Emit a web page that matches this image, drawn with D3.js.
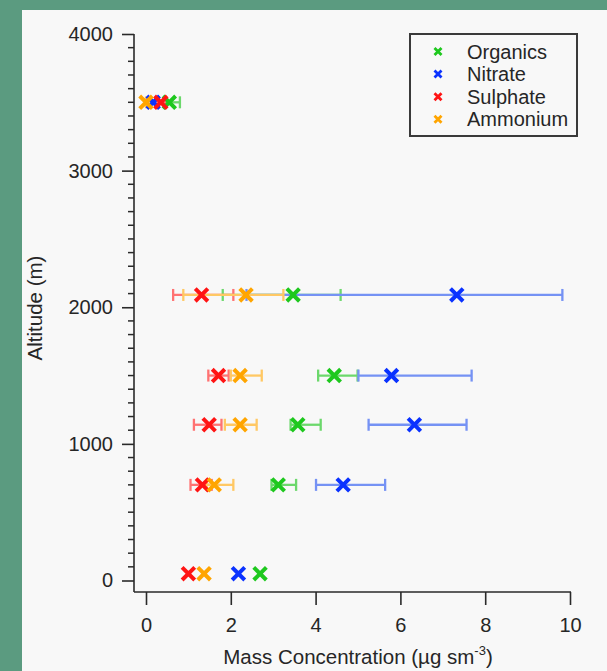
<!DOCTYPE html>
<html>
<head>
<meta charset="utf-8">
<script src="https://cdn.jsdelivr.net/npm/d3@7"></script>
<style>
  body { margin: 0; background: #5b9b80; }
  svg { display: block; font-family: "Liberation Sans", Arial, sans-serif; }
</style>
</head>
<body>
<script>
// altitude of each sampling level (m)
var altitude = [3500, 2090, 1500, 1140, 700, 50];

// mean mass concentration and lower / upper error bounds (ug sm-3)
var organics     = [0.55, 3.47, 4.44, 3.58, 3.12, 2.69];
var organicsLow  = [0.30, 1.81, 4.06, 3.41, 2.96, null];
var organicsHigh = [0.80, 4.59, 4.99, 4.12, 3.54, null];

var nitrate     = [0.17, 7.33, 5.79, 6.33, 4.65, 2.18];
var nitrateLow  = [0.10, 2.37, 5.01, 5.25, 4.01, null];
var nitrateHigh = [0.25, 9.82, 7.68, 7.56, 5.64, null];

var sulphate     = [0.35, 1.31, 1.71, 1.49, 1.33, 1.00];
var sulphateLow  = [0.25, 0.64, 1.47, 1.13, 1.05, null];
var sulphateHigh = [0.45, 2.06, 1.95, 1.78, 1.55, null];

var ammonium     = [0.00, 2.36, 2.22, 2.22, 1.61, 1.37];
var ammoniumLow  = [0.00, 0.88, 2.00, 1.86, 1.43, null];
var ammoniumHigh = [0.10, 3.24, 2.73, 2.61, 2.06, null];

var seriesNames = ["Organics", "Nitrate", "Sulphate", "Ammonium"];
var seriesColors = ["#1ec81e", "#0a32ff", "#ff1414", "#ffa500"];
var errorColors = ["#6cd86c", "#7592f4", "#ff7272", "#ffc864"];

var xTicks = [0, 2, 4, 6, 8, 10];
var yTicks = [0, 1000, 2000, 3000, 4000];

window.onload = drawChart();

function drawChart(){
    var width = 607,
        height = 671;

    var svg = d3.select("body")
        .append("svg")
        .attr("width", width)
        .attr("height", height);

    //light panel behind the plot
    svg.append("rect")
        .attr("x", 22)
        .attr("y", 10)
        .attr("width", width - 22)
        .attr("height", height - 10)
        .attr("fill", "#f8f8f8");

    var x = d3.scaleLinear().domain([0, 10]).range([146, 570]);
    var y = d3.scaleLinear().domain([0, 4000]).range([580.5, 34]);

    var axisColor = "#2a2a2a";

    //x axis (offset below the plot, Igor style)
    var xAxis = svg.append("g")
        .attr("transform", "translate(0,592)")
        .call(d3.axisBottom(x).tickValues(xTicks).tickSize(13).tickPadding(13).tickFormat(d3.format("d")));
    xAxis.select(".domain").attr("d", "M134,0H571");

    //y axis with 100 m minor ticks
    var yAxis = svg.append("g")
        .attr("transform", "translate(134,0)")
        .call(d3.axisLeft(y).tickValues(yTicks).tickSize(12).tickPadding(9).tickFormat(d3.format("d")));
    yAxis.select(".domain").attr("d", "M0," + y(4000) + "V592");
    yAxis.selectAll(".minor")
        .data(d3.range(0, 4001, 100).filter(function(d){ return d % 1000 !== 0; }))
        .enter()
        .append("line")
        .attr("class", "minor")
        .attr("x1", -6)
        .attr("x2", 0)
        .attr("y1", function(d){ return y(d); })
        .attr("y2", function(d){ return y(d); })
        .attr("stroke", axisColor)
        .attr("stroke-width", 1.5);

    [xAxis, yAxis].forEach(function(a){
        a.selectAll(".domain, .tick line").attr("stroke", axisColor).attr("stroke-width", 1.6);
        a.selectAll("text").attr("fill", "#262626").attr("font-size", 20).attr("font-family", "Liberation Sans, Arial, sans-serif");
    });

    //axis titles
    var xTitle = svg.append("text")
        .attr("x", 358)
        .attr("y", 664)
        .attr("text-anchor", "middle")
        .attr("font-size", 20.5)
        .attr("fill", "#262626");
    xTitle.append("tspan").text("Mass Concentration (µg sm");
    xTitle.append("tspan").attr("dy", -9).attr("font-size", 13).text("-3");
    xTitle.append("tspan").attr("dy", 9).text(")");

    svg.append("text")
        .attr("transform", "translate(42,308) rotate(-90)")
        .attr("text-anchor", "middle")
        .attr("font-size", 20.5)
        .attr("fill", "#262626")
        .text("Altitude (m)");

    var means = [organics, nitrate, sulphate, ammonium],
        lows = [organicsLow, nitrateLow, sulphateLow, ammoniumLow],
        highs = [organicsHigh, nitrateHigh, sulphateHigh, ammoniumHigh];

    //error bars first, all series
    means.forEach(function(vals, s){
        var bars = svg.append("g")
            .attr("stroke", errorColors[s])
            .attr("stroke-width", 2.3)
            .selectAll("g")
            .data(altitude.map(function(a, i){ return {alt: a, lo: lows[s][i], hi: highs[s][i]}; })
                .filter(function(d){ return d.lo !== null; }))
            .enter()
            .append("g");
        bars.append("line")
            .attr("x1", function(d){ return x(d.lo); })
            .attr("x2", function(d){ return x(d.hi); })
            .attr("y1", function(d){ return y(d.alt); })
            .attr("y2", function(d){ return y(d.alt); });
        bars.append("line")
            .attr("x1", function(d){ return x(d.lo); })
            .attr("x2", function(d){ return x(d.lo); })
            .attr("y1", function(d){ return y(d.alt) - 6; })
            .attr("y2", function(d){ return y(d.alt) + 6; });
        bars.append("line")
            .attr("x1", function(d){ return x(d.hi); })
            .attr("x2", function(d){ return x(d.hi); })
            .attr("y1", function(d){ return y(d.alt) - 6; })
            .attr("y2", function(d){ return y(d.alt) + 6; });
    });

    function cross(r){
        return "M" + (-r) + "," + (-r) + "L" + r + "," + r + "M" + (-r) + "," + r + "L" + r + "," + (-r);
    }

    //markers
    means.forEach(function(vals, s){
        svg.append("g")
            .selectAll("path")
            .data(altitude.map(function(a, i){ return {alt: a, v: vals[i]}; }))
            .enter()
            .append("path")
            .attr("transform", function(d){ return "translate(" + x(d.v) + "," + y(d.alt) + ")"; })
            .attr("d", cross(6.3))
            .attr("fill", "none")
            .attr("stroke", seriesColors[s])
            .attr("stroke-width", 4);
    });

    //legend
    var legend = svg.append("g");
    legend.append("rect")
        .attr("x", 410)
        .attr("y", 34)
        .attr("width", 167)
        .attr("height", 102)
        .attr("fill", "none")
        .attr("stroke", "#3a3a3a")
        .attr("stroke-width", 2);
    var items = legend.selectAll(".item")
        .data(seriesNames)
        .enter()
        .append("g")
        .attr("class", "item")
        .attr("transform", function(d, i){ return "translate(438," + (51.5 + i * 22.6) + ")"; });
    items.append("path")
        .attr("d", cross(3.5))
        .attr("fill", "none")
        .attr("stroke", function(d, i){ return seriesColors[i]; })
        .attr("stroke-width", 2.8);
    items.append("text")
        .attr("x", 29)
        .attr("dy", "0.35em")
        .attr("font-size", 20)
        .attr("fill", "#262626")
        .text(function(d){ return d; });
}
</script>
</body>
</html>
